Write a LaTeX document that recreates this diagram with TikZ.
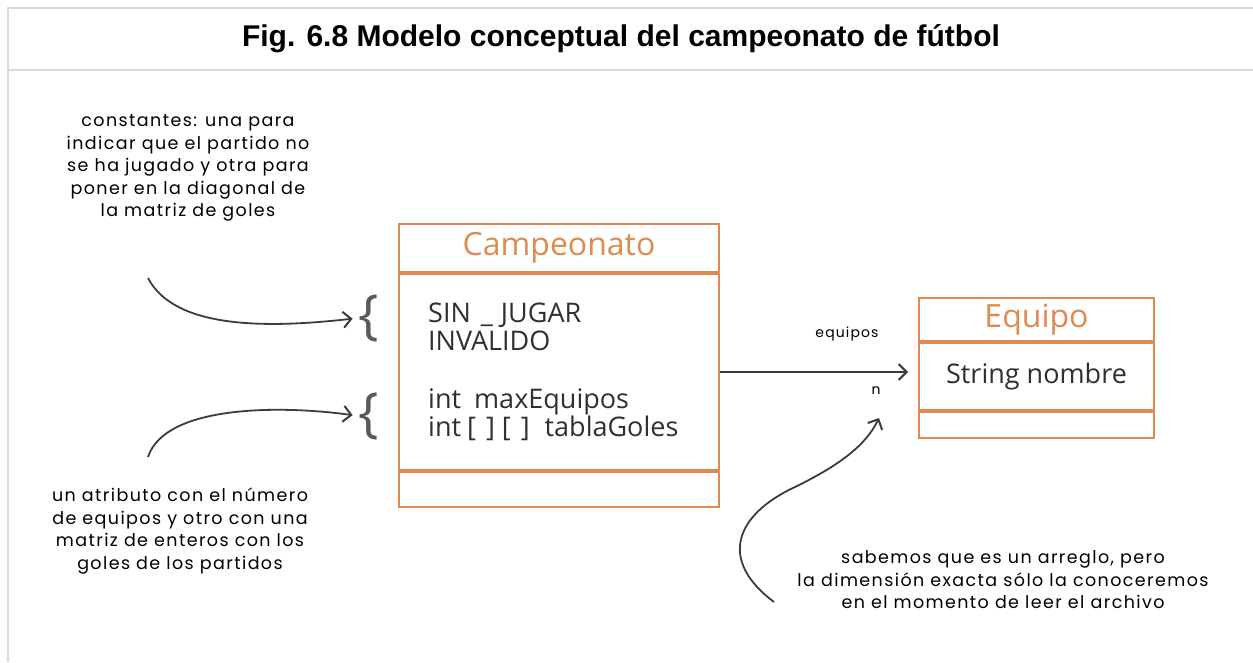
\documentclass[tikz,border=0pt]{standalone}
\usepackage{fontspec}
\setmainfont{Open Sans}
\newfontfamily\titlefont{Liberation Sans}
\newfontfamily\notefont[LetterSpace=8]{Poppins}
\usetikzlibrary{arrows.meta, positioning}
\definecolor{ClassOrange} {RGB}{224, 138,  80}
\definecolor{FrameGray}   {RGB}{218, 218, 218}
\definecolor{InkGray}     {RGB}{ 60,  60,  60}
\definecolor{BraceGray}   {RGB}{ 90,  90,  90}
\tikzset{
  % Class compartments
  classpart/.style={
    rectangle, draw=ClassOrange, line width=2pt,
    inner sep=0pt, minimum width=#1
  },
  classname/.style={
    classpart=#1, text=ClassOrange,
    font=\fontsize{32}{34}\selectfont
  },
  % Attribute text inside a class
  attrtext/.style={
    font=\fontsize{27}{28.5}\selectfont, text=InkGray!80!black,
    align=left, inner sep=0pt
  },
  % Hand-written style notes
  note/.style={
    font=\notefont\fontsize{17.5}{22.5}\selectfont,
    text=black, align=center, inner sep=0pt
  },
  % Curly brace glyphs
  bracemark/.style={
    font=\fontsize{54}{54}\selectfont, text=BraceGray, inner sep=0pt
  },
  % Arrow styles
  assoc/.style={
    -{Straight Barb[length=8pt, width=16pt, line width=2pt]},
    line width=1.8pt, color=InkGray
  },
  pointer/.style={
    -{Straight Barb[length=8pt, width=16pt, line width=2pt]},
    line width=1.8pt, color=InkGray
  }
}

\begin{document}
\begin{tikzpicture}[x=1pt, y=-1pt]

  \useasboundingbox[fill=white] (0,0) rectangle (1253,662);

  % ── Frame ─────────────────────────────────────────────────────────────────
  \draw[FrameGray, line width=2.5pt] (8,662) -- (8,8) -- (1253,8);
  \draw[FrameGray, line width=2.5pt] (8,70) -- (1253,70);
  \node[font=\titlefont\bfseries\fontsize{30}{32}\selectfont] (title) at (621,39)
        {Fig. 6.8 Modelo conceptual del campeonato de fútbol};

  % ── Class Campeonato ──────────────────────────────────────────────────────
  \node[classname=320pt, minimum height=48pt, anchor=north west] (camphead) at (398,223)
        {Campeonato};
  \node[classpart=320pt, minimum height=196pt, below=0pt of camphead] (campbody) {};
  \node[classpart=320pt, minimum height=35pt, below=0pt of campbody] (campfoot) {};
  \node[attrtext, right=30pt of campbody.west] (campattrs)
        {SIN\hspace{10pt}\_\hspace{8pt}JUGAR\\INVALIDO\\[29pt]%
         int\hspace{13pt}maxEquipos\\%
         int\hspace{6pt}[\hspace{10pt}]\hspace{7pt}[\hspace{10pt}]\hspace{15pt}tablaGoles};

  % ── Class Equipo ──────────────────────────────────────────────────────────
  \node[classname=235pt, minimum height=43pt, anchor=north west] (equihead) at (918,297)
        {Equipo};
  \node[classpart=235pt, minimum height=67pt, below=0pt of equihead,
        font=\fontsize{27}{28}\selectfont, text=InkGray!80!black] (equibody)
        {String nombre};
  \node[classpart=235pt, minimum height=26pt, below=0pt of equibody] (equifoot) {};

  % ── Association ───────────────────────────────────────────────────────────
  \draw[assoc, shorten >=10pt] (campbody.east) -- (campbody.east -| equibody.west);
  \node[font=\notefont\fontsize{14}{16}\selectfont, anchor=south east] (lblequipos)
        at (882,345) {equipos};
  \node[font=\notefont\fontsize{14}{16}\selectfont] (lblmult) at (876,391) {n};

  % ── Notes on the left ─────────────────────────────────────────────────────
  \node[note] (noteconst) at (188,168)
        {constantes: una para\\indicar que el partido no\\se ha jugado y otra para\\poner en la diagonal de\\la matriz de goles};
  \node[note] (noteattr) at (180,531)
        {un atributo con el número\\de equipos y otro con una\\matriz de enteros con los\\goles de los partidos};

  \node[bracemark] (braceconst) at (369,318) {\{};
  \node[bracemark] (braceattr)  at (369,416) {\{};

  \coordinate (startconst) at (148,278);
  \coordinate (startattr)  at (148,457);
  \draw[pointer, shorten >=6pt] (startconst) .. controls (175,330) and (270,328) .. (braceconst.west);
  \draw[pointer, shorten >=6pt] (startattr) .. controls (165,405) and (280,405) .. (braceattr.west);

  % ── Note on the array ─────────────────────────────────────────────────────
  \node[note] (notearray) at (1003,580)
        {sabemos que es un arreglo, pero\\la dimensión exacta sólo la conoceremos\\en el momento de leer el archivo};
  \coordinate (startarray) at (774,602);
  \coordinate (tiparray)   at (879,418);
  \draw[pointer] (startarray) .. controls (718,560) and (735,515) .. (795,487)
                 .. controls (840,465) and (866,445) .. (tiparray);

\end{tikzpicture}
\end{document}
